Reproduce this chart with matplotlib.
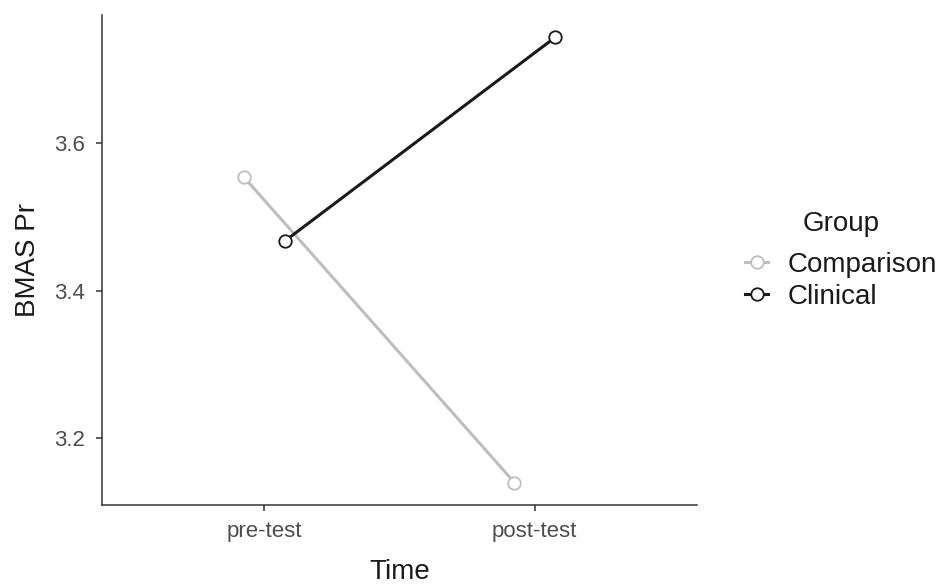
import matplotlib
matplotlib.use("Agg")
import matplotlib.pyplot as plt
from matplotlib.lines import Line2D
import numpy as np

plt.rcParams['font.family'] = ['Liberation Sans', 'DejaVu Sans']

times = ["pre-test", "post-test"]
groups = ["Comparison", "Clinical"]
comparison = [3.554, 3.139]
clinical = [3.467, 3.744]
colors = {"Comparison": "#BEBEBE", "Clinical": "#1A1A1A"}
dodge = {"Comparison": -0.075, "Clinical": 0.075}
values = {"Comparison": comparison, "Clinical": clinical}

fig = plt.figure(figsize=(9.42, 5.86), dpi=100)
ax = fig.add_axes([102/942, 81/586, (697-102)/942, (505-15)/586])

x = np.arange(1, len(times) + 1)
for g in groups:
    ax.plot(x + dodge[g], values[g], color=colors[g], lw=2.2, marker='o',
            markersize=9, markerfacecolor='white', markeredgecolor=colors[g],
            markeredgewidth=1.3, zorder=3)

ax.set_xlim(0.4, 2.6)
ax.set_ylim(3.1085, 3.7745)
ax.set_xticks(x)
ax.set_xticklabels(times)
ax.set_yticks([3.2, 3.4, 3.6])
ax.set_yticklabels(["3.2", "3.4", "3.6"])
for s in ["top", "right"]:
    ax.spines[s].set_visible(False)
for s in ["left", "bottom"]:
    ax.spines[s].set_color("#333333")
    ax.spines[s].set_linewidth(1.1)
ax.tick_params(axis='both', colors='#333333', length=4, width=1.1,
               labelsize=16, labelcolor='#4D4D4D')
ax.tick_params(axis='y', pad=8.5)
ax.tick_params(axis='x', pad=7.5)
ax.set_xlabel("Time", fontsize=20, color='#1A1A1A')
ax.set_ylabel("BMAS Pr", fontsize=20, color='#1A1A1A')
ax.xaxis.set_label_coords(0.5, (505-572)/490)
ax.xaxis.label.set_va('center')
ax.yaxis.set_label_coords((28-102)/595, 0.5)
ax.yaxis.label.set_va('center')

handles = [Line2D([], [], color=colors[g], lw=2.2, marker='o', markersize=9,
                  markerfacecolor='white', markeredgecolor=colors[g],
                  markeredgewidth=1.3) for g in groups]
leg = fig.legend(handles, groups, loc='center left',
                 bbox_to_anchor=(745/942, 1 - 281/586), frameon=False,
                 fontsize=20, handlelength=0.83, handletextpad=0.72,
                 labelspacing=0.2, borderaxespad=0, borderpad=0)
for t in leg.get_texts():
    t.set_color('#1A1A1A')
fig.text(841/942, 1 - 224/586, "Group", fontsize=20, ha='center', va='center',
         color='#1A1A1A')

fig.savefig("out.png", dpi=100)
